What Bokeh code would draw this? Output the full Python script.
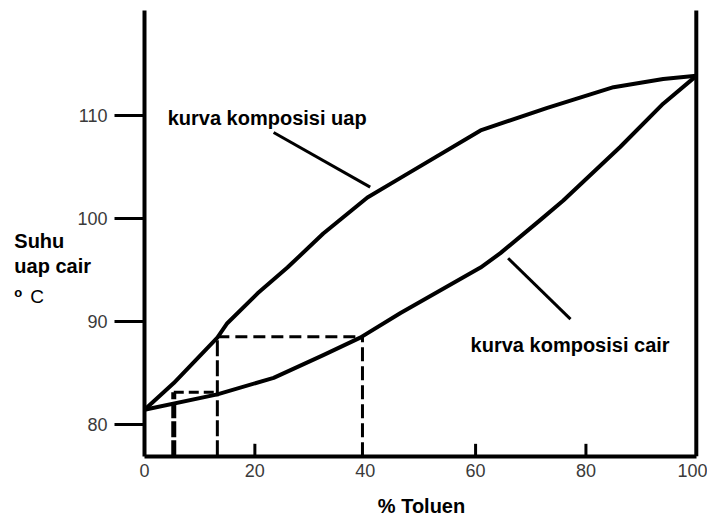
from bokeh.plotting import figure
from bokeh.models import Range1d, FixedTicker, Label, LinearAxis
from bokeh.embed import file_html
from bokeh.resources import INLINE

# ---- data ----
vapor_x = [0, 5.3, 13.2, 15.0, 20.5, 25.9, 32.4, 40.4, 46.4, 60.9, 73.0, 85.0, 94.0, 100]
vapor_t = [81.4, 84.0, 88.4, 89.8, 92.7, 95.2, 98.5, 102.0, 103.9, 108.5, 110.7, 112.7, 113.5, 113.8]

liquid_x = [0, 13.2, 23.4, 32.4, 39.1, 46.4, 60.9, 64.5, 71.7, 75.9, 86.2, 94.0, 100]
liquid_t = [81.4, 82.9, 84.5, 86.7, 88.4, 90.8, 95.2, 96.6, 99.8, 101.7, 106.9, 111.1, 113.8]

# tie-line compositions (% toluene) and temperatures
tie_x = [5.3, 13.2, 39.5]
tie_t = [83.1, 88.5]

x_ticks = [0, 20, 40, 60, 80, 100]
x_inner_ticks = [20, 60, 80]
y_ticks = [80, 90, 100, 110]

# leader lines of the two curve labels
lead_uap = [(23.4, 108.3), (40.9, 103.0)]
lead_cair = [(65.9, 96.1), (77.2, 90.2)]

FONT = "Liberation Sans"
X0, X1 = 0, 100          # axis extent (% toluene)
Y0, Y1 = 76.9, 120.15    # axis extent (deg C)

p = figure(width=707, height=516, output_backend="svg", toolbar_location=None,
           x_range=Range1d(-26.1, 102.03), y_range=Range1d(71.05, 121.11),
           x_axis_location=None, y_axis_location=None,
           min_border_left=0, min_border_right=0, min_border_top=0,
           min_border_bottom=0)
p.outline_line_color = None
p.xgrid.grid_line_color = None
p.ygrid.grid_line_color = None
p.background_fill_color = "white"

# axes at fixed positions
xa = LinearAxis(fixed_location=Y0, bounds=(X0, X1), ticker=FixedTicker(ticks=x_ticks))
xa.axis_line_width = 4
xa.axis_line_color = "black"
xa.major_tick_in = 0
xa.major_tick_out = 0
xa.minor_tick_line_color = None
xa.major_label_standoff = 8
xa.major_label_text_font = FONT
xa.major_label_text_font_size = "18px"
xa.major_label_text_color = "#3a3a3a"
p.add_layout(xa, "below")

ya = LinearAxis(fixed_location=X0, bounds=(Y0, Y1), ticker=FixedTicker(ticks=y_ticks))
ya.axis_line_width = 4
ya.axis_line_color = "black"
ya.major_tick_in = 0
ya.major_tick_out = 30
ya.major_tick_line_width = 3
ya.major_tick_line_color = "black"
ya.minor_tick_line_color = None
ya.major_label_standoff = 7
ya.major_label_text_font = FONT
ya.major_label_text_font_size = "18px"
ya.major_label_text_color = "#3a3a3a"
p.add_layout(ya, "left")

# right frame line at 100 %
p.segment(x0=[X1], y0=[Y0], x1=[X1], y1=[Y1], line_width=4, line_color="black")

# small inner ticks on the x axis
p.segment(x0=x_inner_ticks, y0=[Y0] * len(x_inner_ticks), x1=x_inner_ticks,
          y1=[Y0 + 1.2] * len(x_inner_ticks), line_width=3, line_color="black")

# curves
p.line(vapor_x, vapor_t, line_width=4, line_color="black", line_join="round")
p.line(liquid_x, liquid_t, line_width=4, line_color="black", line_join="round")

# tie lines (dashed)
p.segment(x0=[tie_x[0]], y0=[Y0], x1=[tie_x[0]], y1=[tie_t[0]],
          line_width=5, line_color="black", line_dash="16 3")
p.segment(x0=[tie_x[0]], y0=[tie_t[0]], x1=[tie_x[1]], y1=[tie_t[0]],
          line_width=3, line_color="black", line_dash="10 5")
p.segment(x0=[tie_x[1]], y0=[Y0], x1=[tie_x[1]], y1=[tie_t[1]],
          line_width=3, line_color="black", line_dash="16 4")
p.segment(x0=[tie_x[1]], y0=[tie_t[1]], x1=[tie_x[2]], y1=[tie_t[1]],
          line_width=3, line_color="black", line_dash="12 6")
p.segment(x0=[tie_x[2]], y0=[Y0], x1=[tie_x[2]], y1=[tie_t[1]],
          line_width=3, line_color="black", line_dash="14 5")

# leader lines
p.segment(x0=[lead_uap[0][0]], y0=[lead_uap[0][1]], x1=[lead_uap[1][0]], y1=[lead_uap[1][1]],
          line_width=3, line_color="black")
p.segment(x0=[lead_cair[0][0]], y0=[lead_cair[0][1]], x1=[lead_cair[1][0]], y1=[lead_cair[1][1]],
          line_width=3, line_color="black")

def lab(x, y, t, size, bold=True, align="left", base="middle", color="black"):
    p.add_layout(Label(x=x, y=y, text=t, text_font=FONT, text_font_size=size,
                       text_font_style="bold" if bold else "normal",
                       text_align=align, text_baseline=base, text_color=color))

lab(4.2, 109.7, "kurva komposisi uap", "20px")
lab(59.1, 87.65, "kurva komposisi cair", "20px")
lab(50.2, 72.1, "% Toluen", "20px", align="center")

# y-axis title
lab(-23.6, 97.8, "Suhu", "20px")
lab(-23.6, 95.4, "uap cair", "20px")
lab(-23.6, 92.8, "o", "13px")
lab(-20.7, 92.4, "C", "19px", bold=False)

open("out.html", "w").write(file_html(p, INLINE))
